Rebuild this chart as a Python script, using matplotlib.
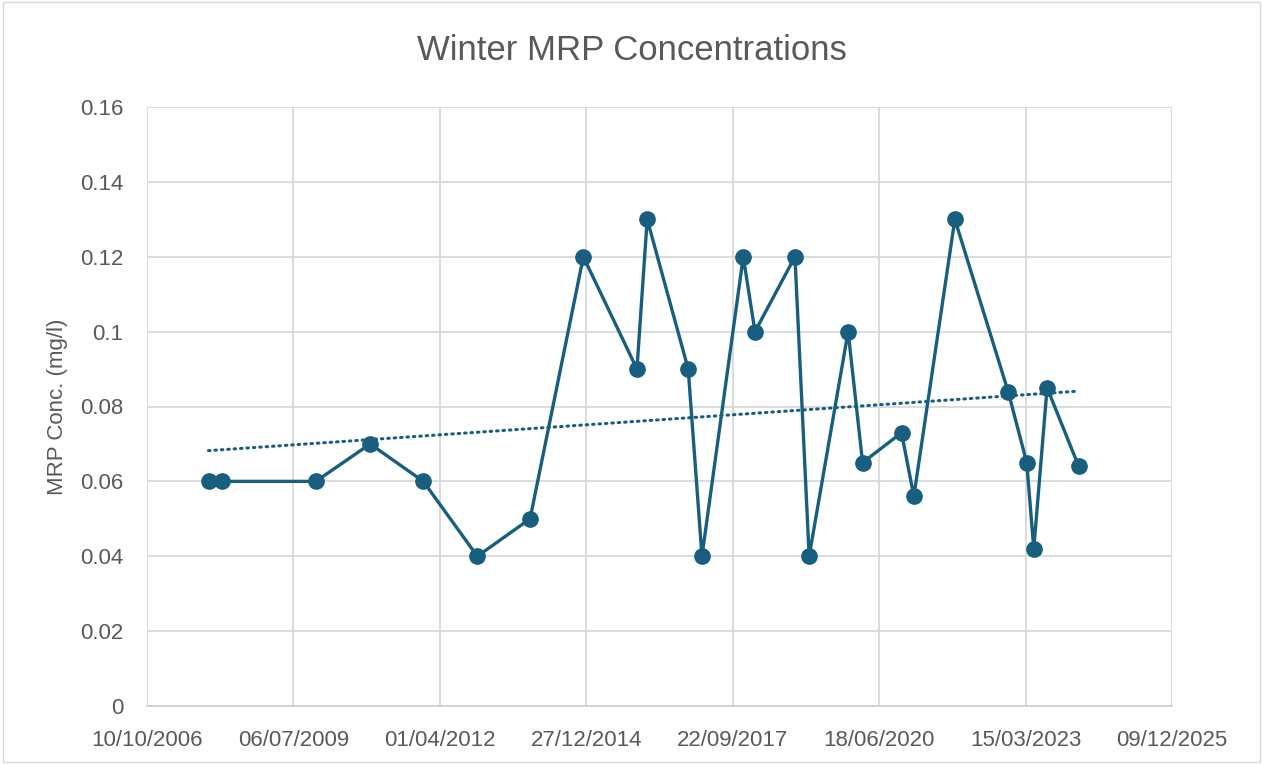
import numpy as np
import matplotlib
matplotlib.use('Agg')
import matplotlib.pyplot as plt
import matplotlib.dates as mdates
from matplotlib.ticker import FuncFormatter, MultipleLocator

# fechas de muestreo (invierno) y concentraciones MRP
fechas = ['2007-12-04', '2008-03-08', '2009-12-06', '2010-12-12', '2011-12-10',
          '2012-12-13', '2013-12-08', '2014-12-07', '2015-12-08', '2016-02-16',
          '2016-11-22', '2017-02-24', '2017-12-03', '2018-02-21', '2018-11-21',
          '2019-02-26', '2019-11-19', '2020-02-26', '2020-11-18', '2021-02-10',
          '2021-11-17', '2022-11-16', '2023-03-23', '2023-05-10', '2023-08-09',
          '2024-03-12']
mrp = [0.06, 0.06, 0.06, 0.07, 0.06, 0.04, 0.05, 0.12, 0.09, 0.13,
       0.09, 0.04, 0.12, 0.10, 0.12, 0.04, 0.10, 0.065, 0.073, 0.056,
       0.13, 0.084, 0.065, 0.042, 0.085, 0.064]

# ticks del eje x (cada 1000 dias)
ticks_x = ['2006-10-10', '2009-07-06', '2012-04-01', '2014-12-27',
           '2017-09-22', '2020-06-18', '2023-03-15', '2025-12-09']

color = '#175e7f'
gris = '#595959'
plt.rcParams['font.family'] = ['Liberation Sans', 'DejaVu Sans']

x = mdates.datestr2num(fechas)
y = np.array(mrp)
xt = mdates.datestr2num(ticks_x)

fig = plt.figure(figsize=(12.63, 7.64), dpi=100)
ax = fig.add_axes([147/1263, 1 - 706/764, (1172-147)/1263, (706-107)/764])

# linea de tendencia lineal
m, b = np.polyfit(x, y, 1)
xx = np.array([x[0], x[-1]])
ax.plot(xx, m*xx + b, linestyle=(0, (0.5, 1.6)), dash_capstyle='round',
        color=color, linewidth=2.2, zorder=2)

ax.plot(x, y, color=color, linewidth=2.4, marker='o', markersize=11,
        zorder=3)

ax.set_xlim(xt[0], xt[-1])
ax.set_ylim(0, 0.16)
ax.set_xticks(xt)
ax.set_xticklabels([mdates.num2date(t).strftime('%d/%m/%Y') for t in xt])
ax.yaxis.set_major_locator(MultipleLocator(0.02))
ax.yaxis.set_major_formatter(FuncFormatter(lambda v, p: f'{round(v, 3):g}'))

ax.grid(True, color='#d9d9d9', linewidth=1.3, zorder=0)
ax.set_axisbelow(True)
for s in ['top', 'right', 'left']:
    ax.spines[s].set_visible(False)
ax.spines['bottom'].set_color('#d0d0d0')
ax.spines['bottom'].set_linewidth(1.3)
ax.tick_params(length=0, labelsize=16, colors=gris)
ax.tick_params(axis='y', pad=17)
ax.tick_params(axis='x', pad=17)

ax.set_ylabel('MRP Conc. (mg/l)', fontsize=16, color=gris, labelpad=9)
fig.text(0.5, 1 - 50/764, 'Winter MRP Concentrations', ha='center', va='center',
         fontsize=25, color=gris)

# borde exterior
fig.patches.append(plt.Rectangle((0.002, 0.002), 0.996, 0.996, transform=fig.transFigure,
                                 fill=False, edgecolor='#d9d9d9', linewidth=1))

fig.savefig('out.png', dpi=100)
